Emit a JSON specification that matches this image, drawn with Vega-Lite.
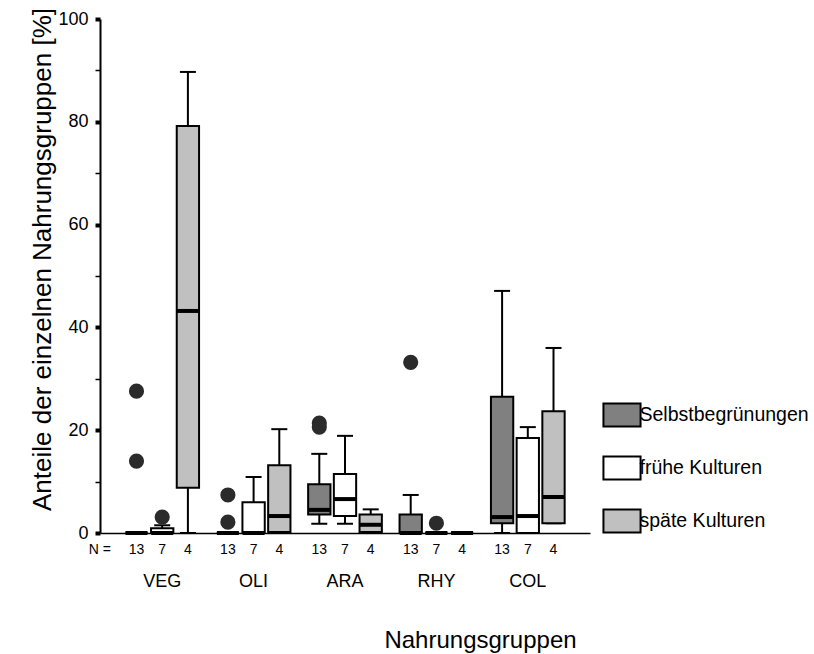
{
  "$schema": "https://vega.github.io/schema/vega-lite/v6.json",
  "width": 490,
  "height": 514,
  "autosize": "none",
  "padding": {"left": 100, "top": 19, "right": 224, "bottom": 121},
  "background": "white",
  "config": {
    "view": {"stroke": null},
    "font": "Liberation Sans",
    "axis": {"grid": false, "labelFont": "Liberation Sans", "titleFont": "Liberation Sans", "labelColor": "black", "titleColor": "black", "domainColor": "black", "tickColor": "black", "titleFontWeight": "normal"},
    "legend": {"labelFont": "Liberation Sans"}
  },
  "datasets": {
    "stats": [
      {"group": "VEG", "series": "Selbstbegrünungen", "lower": 0, "q1": 0, "median": 0, "q3": 0, "upper": 0, "N": 13},
      {"group": "VEG", "series": "frühe Kulturen", "lower": 0, "q1": 0, "median": 0, "q3": 0.9, "upper": 1.5, "N": 7},
      {"group": "VEG", "series": "späte Kulturen", "lower": 0, "q1": 8.8, "median": 43.2, "q3": 79.2, "upper": 89.7, "N": 4},
      {"group": "OLI", "series": "Selbstbegrünungen", "lower": 0, "q1": 0, "median": 0, "q3": 0, "upper": 0, "N": 13},
      {"group": "OLI", "series": "frühe Kulturen", "lower": 0, "q1": 0, "median": 0, "q3": 6.0, "upper": 10.9, "N": 7},
      {"group": "OLI", "series": "späte Kulturen", "lower": 0, "q1": 0.2, "median": 3.3, "q3": 13.2, "upper": 20.2, "N": 4},
      {"group": "ARA", "series": "Selbstbegrünungen", "lower": 1.8, "q1": 3.6, "median": 4.5, "q3": 9.5, "upper": 15.4, "N": 13},
      {"group": "ARA", "series": "frühe Kulturen", "lower": 1.8, "q1": 3.3, "median": 6.6, "q3": 11.5, "upper": 18.9, "N": 7},
      {"group": "ARA", "series": "späte Kulturen", "lower": 0.2, "q1": 0.2, "median": 1.6, "q3": 3.6, "upper": 4.6, "N": 4},
      {"group": "RHY", "series": "Selbstbegrünungen", "lower": 0, "q1": 0, "median": 0, "q3": 3.6, "upper": 7.4, "N": 13},
      {"group": "RHY", "series": "frühe Kulturen", "lower": 0, "q1": 0, "median": 0, "q3": 0, "upper": 0, "N": 7},
      {"group": "RHY", "series": "späte Kulturen", "lower": 0, "q1": 0, "median": 0, "q3": 0, "upper": 0, "N": 4},
      {"group": "COL", "series": "Selbstbegrünungen", "lower": 0, "q1": 1.9, "median": 3.1, "q3": 26.5, "upper": 47.1, "N": 13},
      {"group": "COL", "series": "frühe Kulturen", "lower": 0, "q1": 0, "median": 3.3, "q3": 18.5, "upper": 20.6, "N": 7},
      {"group": "COL", "series": "späte Kulturen", "lower": 1.9, "q1": 1.9, "median": 7.0, "q3": 23.7, "upper": 36.0, "N": 4}
    ],
    "outliers": [
      {"group": "VEG", "series": "Selbstbegrünungen", "value": 27.6},
      {"group": "VEG", "series": "Selbstbegrünungen", "value": 14.0},
      {"group": "VEG", "series": "frühe Kulturen", "value": 3.1},
      {"group": "OLI", "series": "Selbstbegrünungen", "value": 7.4},
      {"group": "OLI", "series": "Selbstbegrünungen", "value": 2.1},
      {"group": "ARA", "series": "Selbstbegrünungen", "value": 21.4},
      {"group": "ARA", "series": "Selbstbegrünungen", "value": 20.6},
      {"group": "RHY", "series": "Selbstbegrünungen", "value": 33.2},
      {"group": "RHY", "series": "frühe Kulturen", "value": 1.9}
    ],
    "nlabel": [
      {"group": "VEG", "label": "N ="}
    ]
  },
  "encoding": {
    "x": {
      "field": "group", "type": "nominal",
      "sort": ["VEG", "OLI", "ARA", "RHY", "COL"],
      "scale": {"domain": ["VEG", "OLI", "ARA", "RHY", "COL"], "paddingInner": 0.18, "paddingOuter": 0.2705},
      "axis": {
        "title": "Nahrungsgruppen", "titleFontSize": 24, "titleX": 380, "titleY": 114, "titleBaseline": "alphabetic", "titleAnchor": "middle", "titleAlign": "center",
        "labelAngle": 0, "labelFontSize": 18, "labelPadding": 53, "labelBaseline": "alphabetic",
        "ticks": false, "tickSize": 0, "domainWidth": 1.5
      }
    }
  },
  "layer": [
    {
      "data": {"name": "stats"},
      "mark": {"type": "rule", "color": "black", "strokeWidth": 2, "opacity": 1},
      "encoding": {
        "xOffset": {"field": "series", "type": "nominal", "sort": ["Selbstbegrünungen", "frühe Kulturen", "späte Kulturen"], "scale": {"paddingInner": 0.132, "paddingOuter": 0.024}},
        "y": {
          "field": "lower", "type": "quantitative",
          "scale": {"domain": [0, 100], "nice": false, "zero": true},
          "axis": {
            "title": "Anteile der einzelnen Nahrungsgruppen [%]", "titleFontSize": 26, "titleX": -50, "titleY": 240, "titleBaseline": "alphabetic", "titleAngle": -90,
            "values": [0, 10, 20, 30, 40, 50, 60, 70, 80, 90, 100],
            "labelExpr": "datum.value % 20 === 0 ? datum.label : ''",
            "labelFontSize": 18, "labelPadding": 7, "tickSize": 5,
            "tickWidth": {"condition": {"test": "datum.value % 20 === 0", "value": 4}, "value": 1.5},
            "domainWidth": 2
          }
        },
        "y2": {"field": "upper"}
      }
    },
    {
      "data": {"name": "stats"},
      "mark": {"type": "tick", "color": "black", "size": 16, "thickness": 2, "opacity": 1},
      "encoding": {
        "xOffset": {"field": "series", "type": "nominal", "sort": ["Selbstbegrünungen", "frühe Kulturen", "späte Kulturen"]},
        "y": {"field": "upper", "type": "quantitative"}
      }
    },
    {
      "data": {"name": "stats"},
      "mark": {"type": "tick", "color": "black", "size": 16, "thickness": 2, "opacity": 1},
      "encoding": {
        "xOffset": {"field": "series", "type": "nominal", "sort": ["Selbstbegrünungen", "frühe Kulturen", "späte Kulturen"]},
        "y": {"field": "lower", "type": "quantitative"}
      }
    },
    {
      "data": {"name": "stats"},
      "mark": {"type": "bar", "stroke": "black", "strokeWidth": 2, "opacity": 1},
      "encoding": {
        "xOffset": {"field": "series", "type": "nominal", "sort": ["Selbstbegrünungen", "frühe Kulturen", "späte Kulturen"]},
        "y": {"field": "q1", "type": "quantitative"},
        "y2": {"field": "q3"},
        "fill": {
          "field": "series", "type": "nominal",
          "scale": {"domain": ["Selbstbegrünungen", "frühe Kulturen", "späte Kulturen"], "range": ["#808080", "#ffffff", "#c0c0c0"]},
          "legend": {
            "title": null, "orient": "none", "legendX": 509, "legendY": 383, "padding": 0,
            "symbolType": "M-1.6,-1H1.6V1H-1.6Z", "symbolSize": 538, "symbolStrokeColor": "black", "symbolStrokeWidth": 2, "symbolOpacity": 1, "symbolFillOpacity": 1,
            "labelFontSize": 19.5, "labelOffset": 4.5, "labelLimit": 0, "labelColor": "black", "rowPadding": 21
          }
        }
      }
    },
    {
      "data": {"name": "stats"},
      "mark": {"type": "tick", "color": "black", "size": 22, "thickness": 4, "opacity": 1},
      "encoding": {
        "xOffset": {"field": "series", "type": "nominal", "sort": ["Selbstbegrünungen", "frühe Kulturen", "späte Kulturen"]},
        "y": {"field": "median", "type": "quantitative"}
      }
    },
    {
      "data": {"name": "outliers"},
      "mark": {"type": "point", "filled": true, "shape": "circle", "size": 230, "color": "#2b2b2b", "opacity": 1},
      "encoding": {
        "xOffset": {"field": "series", "type": "nominal", "sort": ["Selbstbegrünungen", "frühe Kulturen", "späte Kulturen"]},
        "y": {"field": "value", "type": "quantitative"}
      }
    },
    {
      "data": {"name": "stats"},
      "mark": {"type": "text", "fontSize": 14, "baseline": "alphabetic", "align": "center", "color": "black"},
      "encoding": {
        "xOffset": {"field": "series", "type": "nominal", "sort": ["Selbstbegrünungen", "frühe Kulturen", "späte Kulturen"]},
        "y": {"datum": -4.15},
        "text": {"field": "N", "type": "nominal"}
      }
    },
    {
      "data": {"name": "nlabel"},
      "mark": {"type": "text", "fontSize": 14, "baseline": "alphabetic", "align": "left", "dx": -73.5, "color": "black"},
      "encoding": {
        "y": {"datum": -4.15},
        "text": {"field": "label", "type": "nominal"}
      }
    }
  ]
}
